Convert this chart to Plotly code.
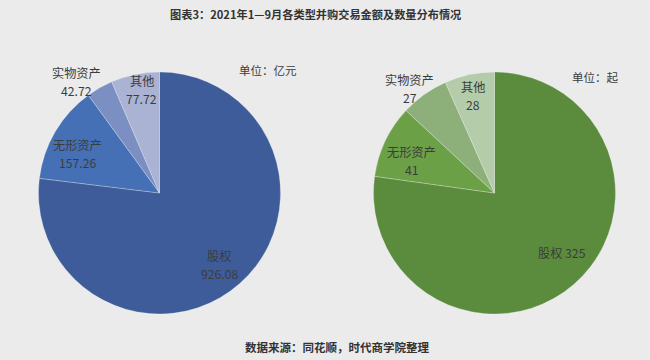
import math
import plotly.graph_objects as go

categories = ["股权", "无形资产", "实物资产", "其他"]
amount_values = [926.08, 157.26, 42.72, 77.72]
count_values = [325, 41, 27, 28]
amount_text = ["926.08", "157.26", "42.72", "77.72"]
count_text = ["325", "41", "27", "28"]

title_text = "图表3：2021年1—9月各类型并购交易金额及数量分布情况"
source_text = "数据来源：同花顺，时代商学院整理"
unit_left = "单位：亿元"
unit_right = "单位：起"

blue_colors = ["#3D5C99", "#4670B5", "#7B8FC3", "#AAB3D3"]
green_colors = ["#5B8B3D", "#6CA046", "#8DB07A", "#B5CCAA"]

FONT = "Noto Sans CJK SC"
TXT = "#3c3c3c"
W, H = 650, 360
R = 121
LABEL_SIZE = 12.2
LINE = 18

# pie placement (pixels), label radial factors and small nudges (style only)
left_center = (159.5, 193)
right_center = (494.5, 193)
left_k = [0.77, 0.75, 1.14, 0.86]
right_k = [0.74, 0.73, 1.11, 0.82]
left_nudge = [(-2, 2), (-4, 7), (-15, 9), (3, -1)]
right_nudge = [(9, -8), (-3, 6), (-7, 5), (-1, 0)]
left_oneline = [False, False, False, False]
right_oneline = [True, False, False, False]

fig = go.Figure()


def txt(text, x, y, size, color=TXT):
    fig.add_annotation(text=text, x=x / W, y=1 - y / H, xref="paper", yref="paper",
                       xanchor="center", yanchor="middle", showarrow=False, align="center",
                       borderpad=0, font=dict(family=FONT, size=size, color=color))


def add_pie(values, colors, center, texts, ks, nudges, oneline):
    cx, cy = center
    fig.add_trace(go.Pie(
        labels=categories, values=values, sort=False, direction="clockwise",
        rotation=0, marker=dict(colors=colors, line=dict(width=0.7, color="rgba(255,255,255,0.35)")),
        textinfo="none",
        domain=dict(x=[(cx - R) / W, (cx + R) / W], y=[1 - (cy + R) / H, 1 - (cy - R) / H]),
        showlegend=False, hoverinfo="label+value+percent",
    ))
    total = sum(values)
    cum = 0.0
    for lab, v, t, k, (nx, ny), one in zip(categories, values, texts, ks, nudges, oneline):
        theta = 2 * math.pi * (cum + v / 2) / total
        cum += v
        px = cx + k * R * math.sin(theta) + nx
        py = cy - k * R * math.cos(theta) + ny
        if one:
            txt(lab + " " + t, px, py, LABEL_SIZE)
        else:
            txt(lab, px, py - LINE / 2, LABEL_SIZE)
            txt(t, px, py + LINE / 2, LABEL_SIZE)


add_pie(amount_values, blue_colors, left_center, amount_text, left_k, left_nudge, left_oneline)
add_pie(count_values, green_colors, right_center, count_text, right_k, right_nudge, right_oneline)

txt("<b>" + title_text + "</b>", 315, 14, 11.2, "#333333")
txt("<b>" + source_text + "</b>", 337, 347, 11.5, "#333333")
txt(unit_left, 268, 70, 11.5)
txt(unit_right, 595, 77, 11.5)

fig.update_layout(
    width=W, height=H, margin=dict(l=0, r=0, t=0, b=0),
    paper_bgcolor="#EBEBEB", plot_bgcolor="#EBEBEB",
    font=dict(family=FONT),
)
fig.write_html("out.html", config={"displayModeBar": False},
               post_script="document.body.style.margin='0';document.body.style.overflow='hidden';")
